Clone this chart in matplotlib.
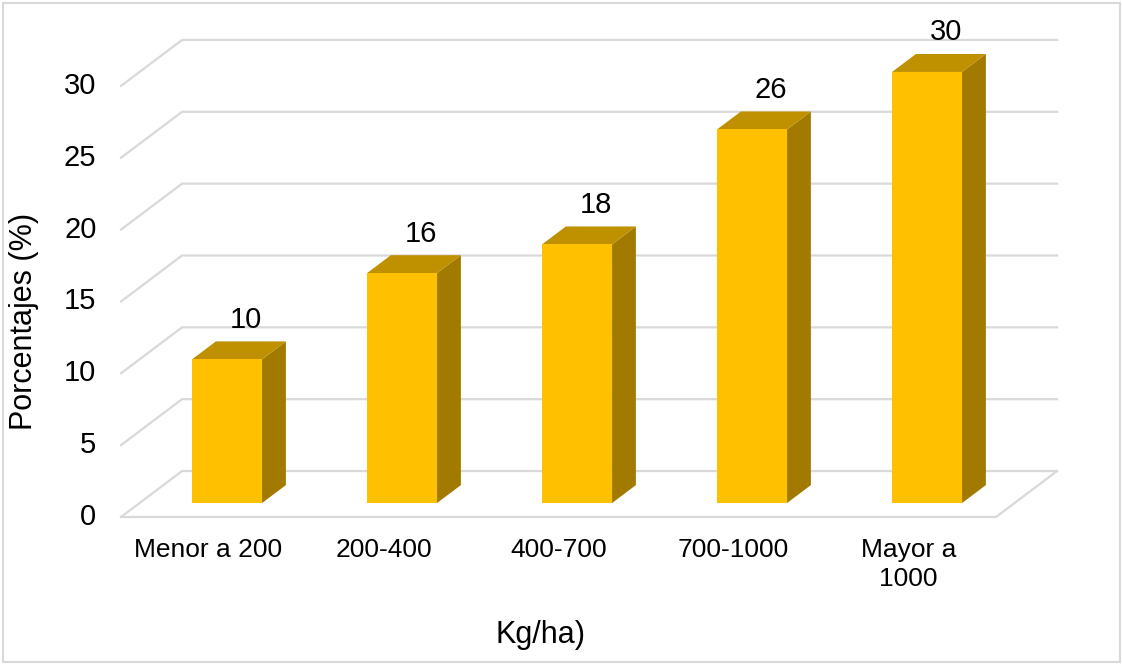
import matplotlib.pyplot as plt
from matplotlib.patches import Polygon, Rectangle

# Datos
categorias = ['Menor a 200', '200-400', '400-700', '700-1000', 'Mayor a\n1000']
porcentajes = [10, 16, 18, 26, 30]
ticks_y = [0, 5, 10, 15, 20, 25, 30]

# Perspectiva oblicua (profundidad en unidades de datos)
DX, DY = 0.349, 3.2
d0, d1 = 0.304, 0.694
ancho = 0.4

color_frente = '#FFC000'
color_arriba = '#BF9000'
color_lado = '#A27A00'
color_grid = '#D9D9D9'

plt.rcParams['font.family'] = ['Liberation Sans', 'DejaVu Sans']


def proj(x, v, d):
    return (x + d * DX, v + d * DY)


fig = plt.figure(figsize=(11.22, 6.64), dpi=100)
ax = fig.add_axes([0, 0, 1, 1])
ax.set_xlim(-1.1914, 5.22)
ax.set_ylim(-10.23, 35.98)
ax.axis('off')

n = len(categorias)
x_izq, x_der = -0.5, n - 0.5

# Paredes y líneas de cuadrícula
for v in ticks_y:
    p0 = proj(x_izq, v, 0)
    p1 = proj(x_izq, v, 1)
    p2 = proj(x_der, v, 1)
    ax.plot([p0[0], p1[0], p2[0]], [p0[1], p1[1], p2[1]], color=color_grid, lw=1.6, zorder=1)
    ax.text(p0[0] - 0.14, p0[1], str(v), ha='right', va='center', fontsize=21)

# Piso
f0 = proj(x_izq, 0, 0)
f1 = proj(x_der, 0, 0)
f2 = proj(x_der, 0, 1)
ax.plot([f0[0], f1[0], f2[0]], [f0[1], f1[1], f2[1]], color=color_grid, lw=1.6, zorder=1)

# Barras 3D
for i, v in enumerate(porcentajes):
    a, b = i - ancho / 2, i + ancho / 2
    frente = [proj(a, 0, d0), proj(b, 0, d0), proj(b, v, d0), proj(a, v, d0)]
    arriba = [proj(a, v, d0), proj(b, v, d0), proj(b, v, d1), proj(a, v, d1)]
    lado = [proj(b, 0, d0), proj(b, 0, d1), proj(b, v, d1), proj(b, v, d0)]
    ax.add_patch(Polygon(lado, closed=True, facecolor=color_lado, edgecolor='none', zorder=2))
    ax.add_patch(Polygon(arriba, closed=True, facecolor=color_arriba, edgecolor='none', zorder=2))
    ax.add_patch(Polygon(frente, closed=True, facecolor=color_frente, edgecolor='none', zorder=3))
    tx, ty = proj(i, v, d1)
    ax.text(tx - 0.03, ty + 1.5, str(v), ha='center', va='center', fontsize=21, zorder=4)

# Etiquetas de categorías
for i, c in enumerate(categorias):
    ax.text(i, -1.45, c, ha='center', va='top', fontsize=19, linespacing=1.25)

# Títulos de ejes
fig.text(24 / 1122, 1 - 321 / 664, 'Porcentajes (%)', rotation=90, ha='center', va='center', fontsize=22)
fig.text(541 / 1122, 1 - 635 / 664, 'Kg/ha)', ha='center', va='center', fontsize=22)

# Borde del área del gráfico
fig.patches.append(Rectangle((2.5 / 1122, 2.5 / 664), 1 - 5 / 1122, 1 - 5 / 664,
                             transform=fig.transFigure, fill=False,
                             edgecolor=color_grid, lw=1.5))

fig.savefig('out.png', dpi=100)
